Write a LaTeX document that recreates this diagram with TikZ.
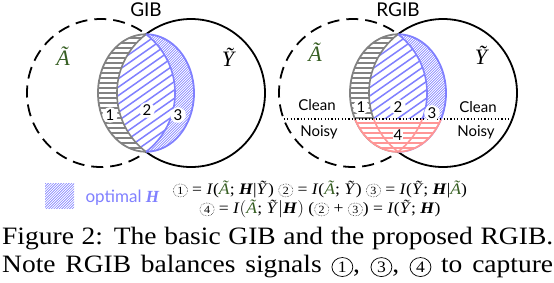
\documentclass[tikz,border=0pt]{standalone}
\usepackage{fontspec}
\setmainfont{Liberation Serif}
\newfontfamily\gill{Lato}
\usetikzlibrary{shapes.geometric}

\definecolor{agreen}{RGB}{55,95,35}
\definecolor{hblue}{RGB}{128,128,255}
\definecolor{hgray}{RGB}{130,130,130}
\definecolor{hred}{RGB}{255,150,150}

\tikzset{
  circA/.style={draw, line width=1.8pt, dash pattern=on 12pt off 7pt},
  circY/.style={draw, line width=1.8pt},
  rlabel/.style={circle, fill=white, inner sep=0.6pt, font=\gill\fontsize{15}{15}\selectfont},
  side/.style={font=\gill\fontsize{15}{15}\selectfont},
  title/.style={font=\gill\fontsize{19}{19}\selectfont},
  setname/.style={font=\fontsize{22}{22}\selectfont\itshape},
  dnum/.style={circle, draw, densely dotted, line width=0.5pt, inner sep=0pt, minimum size=13pt, font=\fontsize{11}{11}\selectfont},
  cnum/.style={circle, draw, line width=0.7pt, inner sep=0pt, minimum size=19pt, font=\fontsize{16}{16}\selectfont},
}

% hatching, drawn inside a clip
\newcommand{\hlines}[2]{%
  \foreach \i in {0,...,30} \draw[#1, line width=1.5pt] (-70,{-75+\i*#2}) -- (70,{-75+\i*#2});}
\newcommand{\dlines}[4]{%
  \foreach \i in {-40,...,40} \draw[#1, line width=#3] ({\i*#2-#4},75) -- ({\i*#2+#4},-75);}

% one lens: sets A and Y, with the optimal H region
\newcommand{\vennlens}{%
  \draw[circA] (-45,0) circle (74);
  \draw[circY] (45,0) circle (74);
  \begin{scope}
    \clip (0,0) ellipse (48 and 58.75);
    \fill[white] (-60,-70) rectangle (60,70);
    \hlines{hgray}{5}
    \begin{scope}
      \clip (45,0) circle (74);
      \fill[white] (-60,-70) rectangle (60,70);
      \dlines{hblue}{2.6}{0.6pt}{75}
      \begin{scope}
        \clip (-45,0) circle (74);
        \fill[white] (-60,-70) rectangle (60,70);
        \dlines{hblue}{12}{1.5pt}{107}
      \end{scope}
    \end{scope}
  \end{scope}
  \draw[hgray, line width=1.6pt] (0,-58.75) arc[start angle=-127.4, end angle=-232.6, radius=74];
  \draw[hblue, line width=1.6pt] (0,-58.75) arc[start angle=-52.6, end angle=52.6, radius=74];
  \draw[hgray, line width=1.8pt] (0,-58.75) arc[start angle=-90, end angle=-270, x radius=48, y radius=58.75];
  \draw[hblue, line width=1.8pt] (0,-58.75) arc[start angle=-90, end angle=90, x radius=48, y radius=58.75];
}

\newcommand{\At}{\textcolor{agreen}{\textit{Ã}}}
\newcommand{\Yt}{\textit{Ỹ}}
\newcommand{\Hb}{\textbf{\textit{H}}}
\newcommand{\dn}[1]{\tikz[baseline=(d.base)]\node[dnum](d){#1};}
\newcommand{\cn}[1]{\tikz[baseline=(c.base)]\node[cnum](c){#1};}

\begin{document}
\begin{tikzpicture}[x=1pt, y=-1pt, line join=round]
\useasboundingbox (0,0) rectangle (554,282);

% GIB
\node[title] (gib) at (146,10) {GIB};
\begin{scope}[shift={(146,93)}]
  \vennlens
  \node[rlabel] (g1) at (-36,22) {1};
  \node[rlabel] (g2) at (1,17) {2};
  \node[rlabel] (g3) at (32,22) {3};
\end{scope}
\node[setname, agreen] (ga) at (63,56) {Ã};
\node[setname] (gy) at (228,57) {Ỹ};

% RGIB
\node[title] (rgib) at (398,10) {RGIB};
\begin{scope}[shift={(398,93)}]
  \vennlens
  \begin{scope}
    \clip (0,0) ellipse (48 and 58.75);
    \clip (-60,26) rectangle (60,70);
    \fill[white] (-60,20) rectangle (60,70);
    \hlines{hred}{5}
    \draw[hred, line width=1.6pt] (-45,0) circle (74) (45,0) circle (74);
  \end{scope}
  \draw[hred, line width=1.8pt] ({48*cos(26.3)},{58.75*sin(26.3)}) arc[start angle=26.3, end angle=153.7, x radius=48, y radius=58.75];
  \coordinate (dl) at (-114.3,26);
  \coordinate (dr) at (114.3,26);
  \draw[line width=1.2pt, dash pattern=on 1.2pt off 2.2pt] (dl) -- (dr);
  \node[rlabel] (r1) at (-37,14) {1};
  \node[rlabel] (r2) at (0,14) {2};
  \node[rlabel] (r3) at (34,20) {3};
  \node[rlabel, rectangle, inner sep=1pt] (r4) at (0,42) {4};
\end{scope}
\node[setname, agreen] (ra) at (315,52) {Ã};
\node[setname] (ry) at (481,55) {Ỹ};
\node[side] (lc) at (317,105) {Clean};
\node[side] (ln) at (319,132) {Noisy};
\node[side] (rc) at (478,107) {Clean};
\node[side] (rn) at (476,132) {Noisy};

% legend
\begin{scope}[shift={(59.5,195.5)}]
  \clip (-14.5,-12.5) rectangle (14.5,12.5);
  \dlines{hblue}{2.6}{0.6pt}{75}
\end{scope}
\node[anchor=base west, hblue, font=\gill\fontsize{17}{17}\selectfont] (opt) at (82,202) {optimal \textbf{\textit{\rmfamily H}}};

% formulas
\node[anchor=base, font=\fontsize{16}{18}\selectfont] (f1) at (320,194)
  {\scalebox{1.1}[1]{\dn{1} = \textit{I}(\At; \Hb|\Yt) \dn{2} = \textit{I}(\At; \Yt) \dn{3} = \textit{I}(\Yt; \Hb|\At)}};
\node[anchor=base, font=\fontsize{16}{18}\selectfont] (f2) at (320,213)
  {\scalebox{1.1}[1]{\dn{4} = \textit{I}$\bigl($\At; \Yt$\big|$\Hb$\bigr)$ (\dn{2} + \dn{3}) = \textit{I}(\Yt; \Hb)}};

% caption
\node[anchor=base west, inner sep=0pt, font=\fontsize{25}{28}\selectfont] (cap1) at (2,244.3)
  {\scalebox{1.1}[1]{\makebox[500.9pt][s]{Figure 2: The basic GIB and the proposed RGIB.}}};
\node[anchor=base west, inner sep=0pt, font=\fontsize{25}{28}\selectfont] (cap2) at (2,272.3)
  {\scalebox{1.1}[1]{\makebox[500.9pt][s]{Note RGIB balances signals \cn{1}, \cn{3}, \cn{4} to capture}}};
\end{tikzpicture}
\end{document}
